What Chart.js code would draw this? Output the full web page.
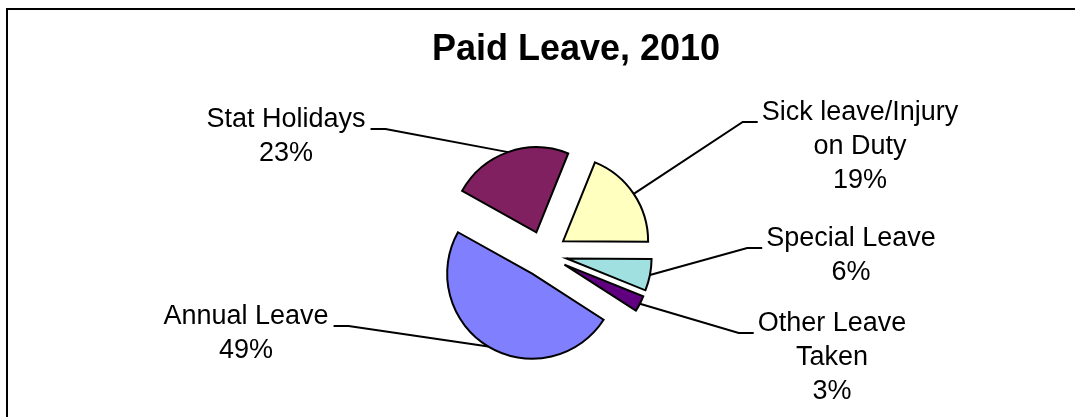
<!DOCTYPE html>
<html>
<head>
<meta charset="utf-8">
<script src="https://cdn.jsdelivr.net/npm/chart.js@4.4.1/dist/chart.umd.min.js"></script>
<style>
  html, body { margin: 0; padding: 0; background: #fff; overflow: hidden; }
  #frame { position: absolute; left: 6px; top: 8px; width: 1200px; height: 600px;
           border-left: 2px solid #000; border-top: 2px solid #000; }
  #chart { position: absolute; left: 0; top: 0; }
</style>
</head>
<body>
<div id="frame"></div>
<canvas id="chart" width="1075" height="417"></canvas>
<script>
// slices, clockwise from the first one
labels = [['Sick leave/Injury', 'on Duty'], ['Special Leave'], ['Other Leave', 'Taken'], ['Annual Leave'], ['Stat Holidays']]
values = [19, 6, 3, 49, 23]
colors = ['#FFFFC0', '#A0E0E0', '#600080', '#8080FF', '#802060']

// label blocks: centre x, middle of first line
labelSpots = [[860, 113], [851, 239], [832, 324], [246, 317], [286, 120]]

RADIUS = 85
EXPLODE = 23
FONT = '"Liberation Sans", Arial, sans-serif'

// push every slice out from the centre along its middle angle
explode = {
    id: 'explode',
    afterDatasetsUpdate(chart) {
        chart.getDatasetMeta(0).data.forEach(arc => {
            mid = (arc.startAngle + arc.endAngle) / 2
            arc.x += Math.cos(mid) * EXPLODE
            arc.y += Math.sin(mid) * EXPLODE
        })
    }
}

pieLabels = {
    id: 'pieLabels',
    afterDatasetsDraw(chart) {
        ctx = chart.ctx
        total = values.reduce((a, b) => a + b, 0)
        ctx.save()
        ctx.font = '27px ' + FONT
        ctx.textAlign = 'center'
        ctx.textBaseline = 'middle'
        ctx.fillStyle = '#000'
        ctx.strokeStyle = '#000'
        ctx.lineWidth = 2
        chart.getDatasetMeta(0).data.forEach((arc, i) => {
            mid = (arc.startAngle + arc.endAngle) / 2
            sx = arc.x + Math.cos(mid) * RADIUS
            sy = arc.y + Math.sin(mid) * RADIUS
            lines = labels[i].concat([Math.round(values[i] / total * 100) + '%'])
            cx = labelSpots[i][0]
            cy = labelSpots[i][1]
            w = ctx.measureText(lines[0]).width
            right = cx > arc.x
            ey = cy + 9
            ex = right ? cx - w / 2 - 4 : cx + w / 2 + 5
            kx = right ? ex - 15 : ex + 15
            ctx.beginPath()
            ctx.moveTo(sx, sy)
            ctx.lineTo(kx, ey)
            ctx.lineTo(ex, ey)
            ctx.stroke()
            for (let j = 0; j < lines.length; j++) {
                ctx.fillText(lines[j], cx, cy + j * 34)
            }
        })
        ctx.font = 'bold 36px ' + FONT
        ctx.fillText('Paid Leave, 2010', 576, 50)
        ctx.restore()
    }
}

myChart = new Chart(document.getElementById('chart'), {
    type: 'pie',
    data: {
        labels: labels,
        datasets: [{
            data: values,
            backgroundColor: colors,
            borderColor: '#000',
            borderWidth: 2,
            borderJoinStyle: 'miter'
        }]
    },
    options: {
        responsive: false,
        animation: false,
        rotation: 22,
        radius: RADIUS,
        layout: { padding: { left: 13, right: 0, top: 91, bottom: 0 } },
        plugins: {
            legend: { display: false },
            tooltip: { enabled: false }
        }
    },
    plugins: [explode, pieLabels]
})
</script>
</body>
</html>
